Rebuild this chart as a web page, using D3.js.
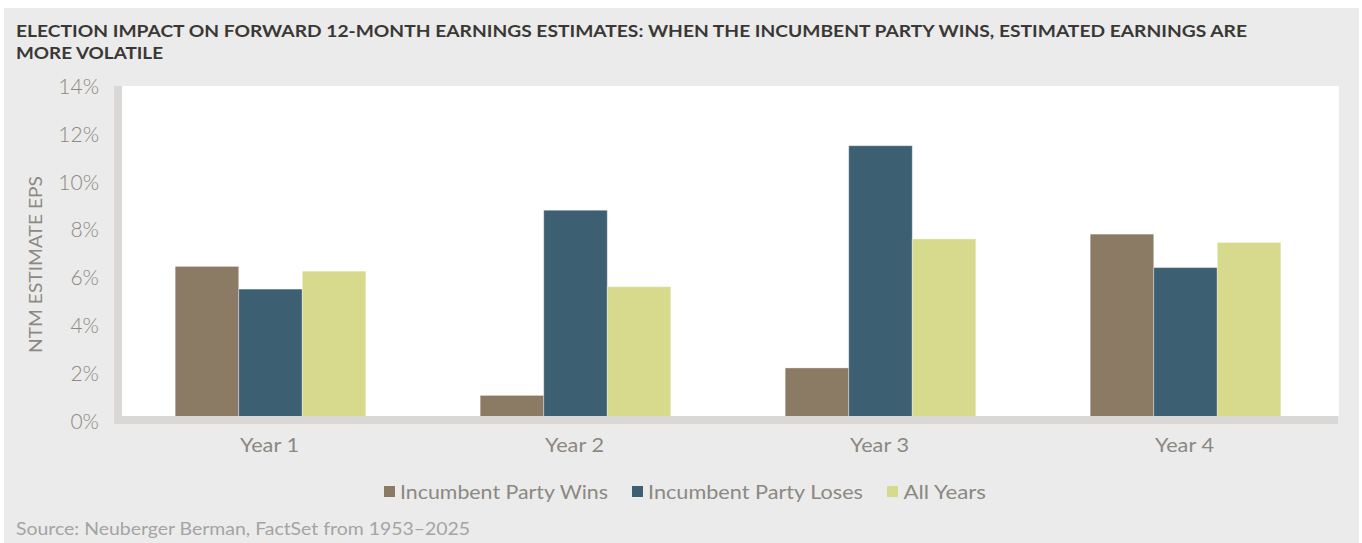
<!DOCTYPE html>
<html>
<head>
<meta charset="utf-8">
<script src="https://cdn.jsdelivr.net/npm/d3@7"></script>
<style>
  html, body { margin: 0; padding: 0; background: #ffffff; }
  svg { display: block; }
  text { font-family: Lato, "Noto Sans", sans-serif; }
</style>
</head>
<body>
<svg id="chart" width="1362" height="543"></svg>
<script>
const categories = ["Year 1", "Year 2", "Year 3", "Year 4"];
const seriesNames = ["Incumbent Party Wins", "Incumbent Party Loses", "All Years"];
const winsValues = [6.45, 1.05, 2.2, 7.8];
const losesValues = [5.5, 8.8, 11.5, 6.4];
const allValues = [6.25, 5.6, 7.6, 7.45];
const yTicks = [0, 2, 4, 6, 8, 10, 12, 14];
const titleLines = [
  "ELECTION IMPACT ON FORWARD 12-MONTH EARNINGS ESTIMATES: WHEN THE INCUMBENT PARTY WINS, ESTIMATED EARNINGS ARE",
  "MORE VOLATILE"
];
const yAxisTitle = "NTM ESTIMATE EPS";
const sourceText = "Source: Neuberger Berman, FactSet from 1953\u20132025";
const colors = ["#8b7b64", "#3c5f71", "#d7da8d"];

const seriesValues = [winsValues, losesValues, allValues];
const svg = d3.select("#chart");

// panel background
svg.append("rect").attr("x", 4).attr("y", 8).attr("width", 1355).attr("height", 535).attr("fill", "#ebebeb");

const plot = { left: 122, right: 1339, top: 86, bottom: 416 };

// left shadow strip
svg.append("rect").attr("x", 114).attr("y", plot.top).attr("width", 8).attr("height", 338).attr("fill", "#d9d8d6");
// plot area
svg.append("rect").attr("x", plot.left).attr("y", plot.top)
  .attr("width", plot.right - plot.left).attr("height", plot.bottom - plot.top).attr("fill", "#ffffff");

const y = d3.scaleLinear().domain([0, 14]).range([420.5, 86]);
const x0 = d3.scaleBand().domain(categories).range([118, 1338]).paddingInner(0).paddingOuter(0);
const step = x0.bandwidth();
const x1 = d3.scaleBand().domain(seriesNames).range([step * 0.1875, step * 0.8125]).padding(0);

// bars
const groups = svg.append("g").selectAll("g").data(categories).join("g")
  .attr("transform", d => `translate(${x0(d)},0)`);
groups.selectAll("rect")
  .data((d, i) => seriesNames.map((s, j) => ({ s, j, v: seriesValues[j][i] })))
  .join("rect")
  .attr("x", d => x1(d.s))
  .attr("width", x1.bandwidth())
  .attr("y", d => y(d.v))
  .attr("height", d => y(0) - y(d.v))
  .attr("fill", d => colors[d.j])
  .attr("stroke", "#ffffff").attr("stroke-opacity", 0.35).attr("stroke-width", 1);

// bottom shadow strip (drawn over bar bases)
svg.append("rect").attr("x", 114).attr("y", plot.bottom).attr("width", 1224).attr("height", 8).attr("fill", "#d9d8d6");

// y axis
const yAxis = d3.axisLeft(y).tickValues(yTicks).tickFormat(d => d + "%").tickSize(0).tickPadding(0);
const yg = svg.append("g").attr("transform", "translate(99,0)").call(yAxis);
yg.select(".domain").remove();
yg.selectAll("text").attr("fill", "#8c8882").style("font-size", "21px").style("font-weight", 300).attr("dy", "0.36em");

// x axis
const xAxis = d3.axisBottom(x0).tickSize(0).tickPadding(0);
const xg = svg.append("g").attr("transform", "translate(-1,437)").call(xAxis);
xg.select(".domain").remove();
xg.selectAll("text").attr("fill", "#8c8882").style("font-size", "20px").style("font-weight", 400).attr("dy", "0.74em")
  .attr("textLength", 59).attr("lengthAdjust", "spacingAndGlyphs");

// y axis title
svg.append("text")
  .attr("transform", "translate(42,264.5) rotate(-90)")
  .attr("text-anchor", "middle")
  .attr("fill", "#8c8882").style("font-size", "18px").style("font-weight", 400)
  .attr("textLength", 177).attr("lengthAdjust", "spacingAndGlyphs")
  .text(yAxisTitle);

// title
const titleWidths = [1231, 147];
svg.selectAll(".title").data(titleLines).join("text")
  .attr("class", "title")
  .attr("x", 16).attr("y", (d, i) => 37 + i * 21.5)
  .attr("fill", "#3a3835").style("font-size", "17px").style("font-weight", 700)
  .attr("textLength", (d, i) => titleWidths[i])
  .attr("lengthAdjust", "spacingAndGlyphs")
  .text(d => d);

// legend
const legendItems = [
  { name: seriesNames[0], sx: 384, tx: 400, w: 208 },
  { name: seriesNames[1], sx: 632, tx: 648, w: 215 },
  { name: seriesNames[2], sx: 887, tx: 903.5, w: 82.5 }
];
const lg = svg.append("g");
lg.selectAll("rect").data(legendItems).join("rect")
  .attr("x", d => d.sx).attr("y", 486).attr("width", 11).attr("height", 11)
  .attr("fill", (d, i) => colors[i]);
lg.selectAll("text").data(legendItems).join("text")
  .attr("x", d => d.tx).attr("y", 499)
  .attr("fill", "#8c8882").style("font-size", "20px").style("font-weight", 400)
  .attr("textLength", d => d.w).attr("lengthAdjust", "spacingAndGlyphs")
  .text(d => d.name);

// source
svg.append("text").attr("x", 16).attr("y", 535)
  .attr("fill", "#a4a4a4").style("font-size", "18px").style("font-weight", 400)
  .attr("textLength", 454).attr("lengthAdjust", "spacingAndGlyphs")
  .text(sourceText);
</script>
</body>
</html>
